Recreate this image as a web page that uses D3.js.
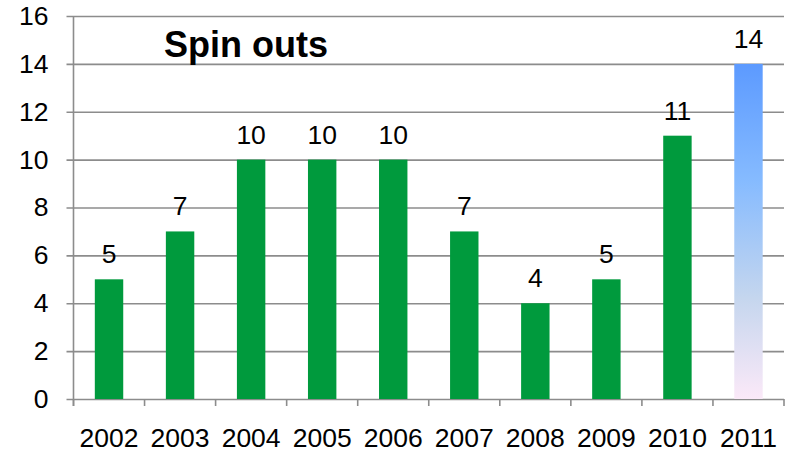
<!DOCTYPE html>
<html>
<head>
<meta charset="utf-8">
<script src="https://cdn.jsdelivr.net/npm/d3@7"></script>
<style>
  body { margin: 0; background: #fff; }
  text { font-family: "Liberation Sans", Arial, sans-serif; fill: #000; }
</style>
</head>
<body>
<div id="chart"></div>
<script>
// data
const years = ['2002','2003','2004','2005','2006','2007','2008','2009','2010','2011'];
const spinOuts = [5, 7, 10, 10, 10, 7, 4, 5, 11, 14];
const yTicks = [0, 2, 4, 6, 8, 10, 12, 14, 16];
const title = 'Spin outs';

const width = 790, height = 452;
const margin = {t:16, r:6, b:53, l:73.5};
const w = width - margin.l - margin.r;
const h = height - margin.t - margin.b;

const svg = d3.select('#chart')
  .append('svg')
  .attr('width', width)
  .attr('height', height);

const plot = svg.append('g')
  .attr('transform', `translate(${margin.l},${margin.t})`);

// scales
const scaleX = d3.scaleBand().domain(years).range([0, w])
  .paddingInner(0.6).paddingOuter(0.3);
const scaleY = d3.scaleLinear().domain([0, 16]).range([h, 0]);

// gradient for the last bar
const grad = svg.append('defs').append('linearGradient')
  .attr('id', 'lastBar')
  .attr('x1', 0).attr('y1', 0).attr('x2', 0).attr('y2', 1);
[[0, '#5c9aff'], [0.35, '#86bbff'], [0.7, '#c5d6ee'], [1, '#fbe9f8']].forEach(s => {
  grad.append('stop').attr('offset', s[0]).attr('stop-color', s[1]);
});

// gridlines + y axis
const axisY = d3.axisLeft(scaleY)
  .tickValues(yTicks)
  .tickSize(-(w + 7))
  .tickPadding(18)
  .tickFormat(d3.format('d'));

const axisYNode = plot.append('g')
  .attr('class', 'axis-y')
  .attr('transform', 'translate(-7,0)')
  .call(axisY);
axisYNode.select('.domain').remove();
axisYNode.selectAll('line')
  .style('stroke', '#8c8c8c')
  .style('stroke-width', 1.6);
axisYNode.selectAll('text')
  .style('font-size', '26.5px')
  .style('font-family', '"Liberation Sans", Arial, sans-serif');

// vertical axis line
plot.append('line')
  .attr('x1', 0).attr('x2', 0)
  .attr('y1', 0).attr('y2', h + 7)
  .style('stroke', '#8c8c8c')
  .style('stroke-width', 1.6);

// x tick marks at category boundaries
const step = scaleX.step();
const bounds = d3.range(years.length + 1).map(i => i * step);
plot.selectAll('.xtick')
  .data(bounds)
  .enter()
  .append('line')
  .attr('class', 'xtick')
  .attr('x1', d => d).attr('x2', d => d)
  .attr('y1', h).attr('y2', h + 7)
  .style('stroke', '#8c8c8c')
  .style('stroke-width', 1.6);

// bars
const data = years.map((y, i) => ({year: y, value: spinOuts[i]}));
plot.selectAll('.bar')
  .data(data)
  .enter()
  .append('rect')
  .attr('class', 'bar')
  .attr('x', d => scaleX(d.year))
  .attr('width', scaleX.bandwidth())
  .attr('y', d => scaleY(d.value))
  .attr('height', d => h - scaleY(d.value))
  .style('fill', (d, i) => i === years.length - 1 ? 'url(#lastBar)' : '#009a3d');

// value labels
plot.selectAll('.label')
  .data(data)
  .enter()
  .append('text')
  .attr('class', 'label')
  .attr('x', d => scaleX(d.year) + scaleX.bandwidth() / 2)
  .attr('y', d => scaleY(d.value) - 16)
  .attr('text-anchor', 'middle')
  .style('font-size', '26.5px')
  .text(d => d.value);

// year labels
plot.selectAll('.year')
  .data(years)
  .enter()
  .append('text')
  .attr('class', 'year')
  .attr('x', d => scaleX(d) + scaleX.bandwidth() / 2)
  .attr('y', h + 48)
  .attr('text-anchor', 'middle')
  .style('font-size', '26.5px')
  .text(d => d);

// title
svg.append('text')
  .attr('x', 164)
  .attr('y', 57)
  .style('font-size', '36px')
  .style('font-weight', 'bold')
  .text(title);
</script>
</body>
</html>
